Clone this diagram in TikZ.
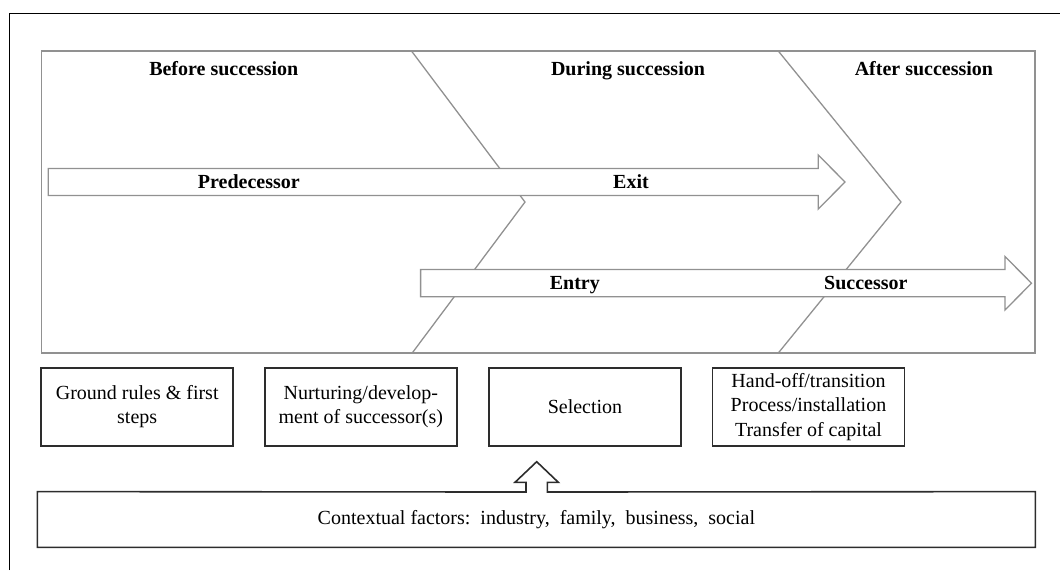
\documentclass[tikz,border=0pt]{standalone}
\usepackage{fontspec}
\setmainfont{Liberation Serif}
\definecolor{phase}{RGB}{145,145,145}
\definecolor{boxline}{RGB}{45,45,45}
\begin{document}
\begin{tikzpicture}[x=0.5pt,y=-0.5pt,
  phaseline/.style={draw=phase, line width=0.65pt, line join=miter},
  blockarrow/.style={draw=phase, fill=white, line width=0.65pt, line join=miter},
  hdr/.style={font=\fontsize{10}{12}\selectfont\bfseries, inner sep=0pt, anchor=base},
  stagebox/.style={draw=boxline, line width=0.8pt, minimum width=96pt, minimum height=39pt,
    align=center, inner sep=2pt, font=\fontsize{10}{12.25}\selectfont},
  ctxbox/.style={minimum width=498.6pt, minimum height=27.5pt, inner sep=0pt,
    font=\fontsize{10}{12}\selectfont}]
\useasboundingbox (0,0) rectangle (1060,570);

% page frame
\draw[black, line width=0.7pt] (9.5,570) -- (9.5,13.3) -- (1060,13.3);

% phase panel with the two chevron boundaries
\draw[phaseline] (41.2,51) rectangle (1035,353);
\draw[phaseline] (411.5,51) -- (525,202) -- (412.2,353);
\draw[phaseline] (778.3,51) -- (901,202) -- (778.3,353);

% predecessor / exit arrow
\draw[blockarrow] (48.3,168.5) -- (818.3,168.5) -- (818.3,155) -- (845,182)
  -- (818.3,209) -- (818.3,195.5) -- (48.3,195.5) -- cycle;
% entry / successor arrow
\draw[blockarrow] (420.6,269.5) -- (1005,269.5) -- (1005,256.5) -- (1031.5,283.2)
  -- (1005,310) -- (1005,296.7) -- (420.6,296.7) -- cycle;

% phase headings
\node[hdr] (before) at (223.8,75.3) {Before succession};
\node[hdr] (during) at (628,75.3) {During succession};
\node[hdr] (after) at (923.9,75.3) {After succession};

% arrow labels
\node[hdr] (pred) at (248.8,188.8) {Predecessor};
\node[hdr] (exit) at (631,188.8) {Exit};
\node[hdr] (entry) at (574.8,289.8) {Entry};
\node[hdr] (succ) at (865.8,289.8) {Successor};

% stage boxes
\node[stagebox] (ground) at (137.2,406.7) {Ground rules \& first\\steps};
\node[stagebox] (nurture) at (360.8,406.7) {Nurturing/develop-\\ment of successor(s)};
\node[stagebox] (select) at (585,406.7) {Selection};
\node[stagebox] (handoff) at (808.5,406.7) {Hand-off/transition\\Process/installation\\Transfer of capital};

% contextual factors box with its upward block arrow
\node[ctxbox] (ctx) at (536.4,519.5) {Contextual factors:\ \ industry,\ \ family,\ \ business,\ \ social};
\draw[draw=boxline, line width=0.8pt, line join=miter]
  (ctx.north west) -- (526,492) -- (526,482.3) -- (515,482.3) -- (536.7,461.7)
  -- (558.3,482.3) -- (547.3,482.3) -- (547.3,492) -- (ctx.north east)
  -- (ctx.south east) -- (ctx.south west) -- cycle;
\end{tikzpicture}
\end{document}
